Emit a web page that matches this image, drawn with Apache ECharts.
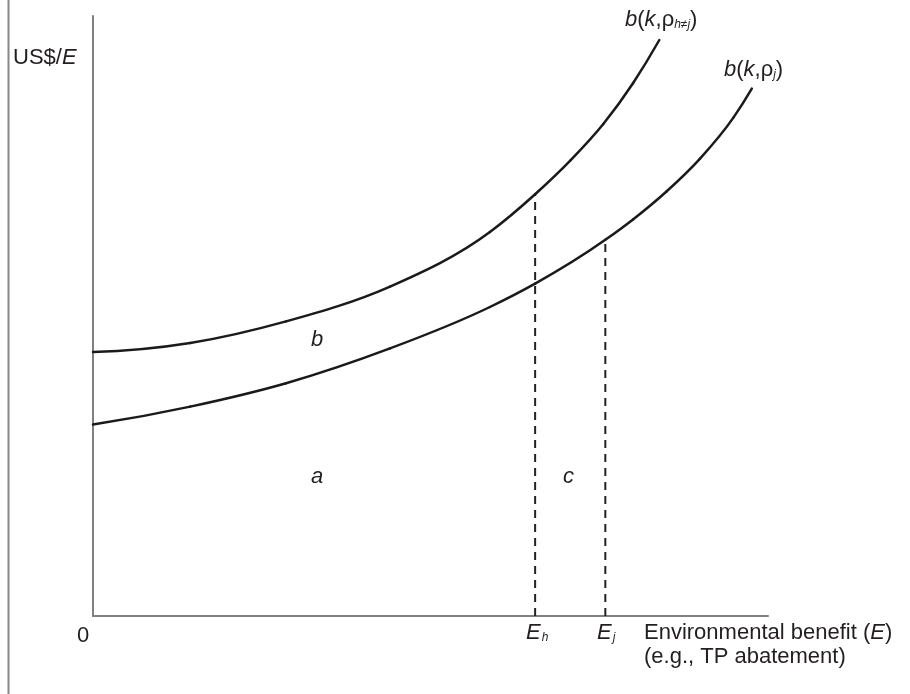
<!DOCTYPE html>
<html>
<head>
<meta charset="utf-8">
<script src="https://cdn.jsdelivr.net/npm/echarts@6/dist/echarts.min.js"></script>
<style>
html,body{margin:0;padding:0;background:#fff;}
#chart{width:910px;height:694px;}
</style>
</head>
<body>
<div id="chart"></div>
<script>
// Curve b(k, rho_{h!=j}) (upper) — [E, US$/E]
var upperX = [0, 14.4, 28.6, 44.0, 58.8, 65.5, 70.7, 75.6, 80.0, 83.9];
var upperY = [44.0, 45.5, 49.1, 54.9, 64.0, 70.3, 75.9, 82.0, 88.8, 96.0];
// Curve b(k, rho_j) (lower)
var lowerX = [0, 14.4, 28.6, 44.0, 58.8, 65.5, 75.9, 80.0, 85.0, 89.9, 94.9, 97.6];
var lowerY = [31.9, 34.9, 38.8, 44.6, 51.5, 55.4, 62.7, 66.1, 70.8, 76.2, 83.1, 87.9];
// Quantities E_h and E_j, and the curve height where each dashed line stops
var Eh = 65.5, EhTop = 70.3;
var Ej = 75.9, EjTop = 62.7;

function pairs(xs, ys){ return xs.map(function(x,i){ return [x, ys[i]]; }); }

var FONT = 'Liberation Sans';
var TXT = '#231f20';
var chart = echarts.init(document.getElementById('chart'), null, {renderer:'canvas'});

var dashStyle = {color:'#222', width:2, type:[8,6]};

// Smooth (cubic Hermite) curve through the data points, mapped through the axis scales
function curveSeries(xs, ys){
  var data = pairs(xs, ys), n = xs.length;
  var h = [], d = [], m = [];
  for (var k = 0; k < n - 1; k++){ h[k] = xs[k+1] - xs[k]; d[k] = (ys[k+1] - ys[k]) / h[k]; }
  for (k = 1; k < n - 1; k++){ m[k] = (h[k] * d[k-1] + h[k-1] * d[k]) / (h[k-1] + h[k]); }
  m[0] = d[0] - h[0] * (d[1] - d[0]) / (h[0] + h[1]);
  m[n-1] = d[n-2] + h[n-2] * (d[n-2] - d[n-3]) / (h[n-3] + h[n-2]);
  return {
    type:'custom', data:data, encode:{x:0, y:1}, z:3, silent:true,
    renderItem:function(params, api){
      var i = params.dataIndex;
      if (i >= n - 1) return;
      var s = h[i] / 3;
      var p1 = api.coord(data[i]), p2 = api.coord(data[i+1]);
      var c1 = api.coord([xs[i] + s, ys[i] + m[i] * s]);
      var c2 = api.coord([xs[i+1] - s, ys[i+1] - m[i+1] * s]);
      return {
        type:'bezierCurve',
        shape:{x1:p1[0], y1:p1[1], x2:p2[0], y2:p2[1], cpx1:c1[0], cpy1:c1[1], cpx2:c2[0], cpy2:c2[1]},
        style:{stroke:'#1a1a1a', lineWidth:2.5, fill:null, lineCap:'round'}
      };
    }
  };
}

function subLabel(text, sub, lh){
  return {text:'{i|' + text + '}{s|' + sub + '}', rich:{
    i:{fontFamily:FONT, fontSize:22, fontStyle:'italic', fill:TXT, lineHeight:lh, verticalAlign:'bottom'},
    s:{fontFamily:FONT, fontSize:12, fontStyle:'italic', fill:TXT, lineHeight:12, verticalAlign:'bottom', padding:[0,0,0,1]}}};
}
function curveLabel(sub){
  return {text:'{i|b}{n|(}{i|k}{n|,ρ}{s|' + sub + '}{n|)}', rich:{
    i:{fontFamily:FONT, fontSize:22, fontStyle:'italic', fill:TXT, lineHeight:28, verticalAlign:'bottom'},
    n:{fontFamily:FONT, fontSize:22, fill:TXT, lineHeight:28, verticalAlign:'bottom'},
    s:{fontFamily:FONT, fontSize:12, fontStyle:'italic', fill:TXT, lineHeight:12, verticalAlign:'bottom'}}};
}

chart.setOption({
  animation:false,
  backgroundColor:'#fff',
  grid:{left:93, right:142, top:16, bottom:78},
  xAxis:{type:'value', min:0, max:100, axisLine:{show:true, lineStyle:{color:'#808080', width:2}},
    axisTick:{show:false}, axisLabel:{show:false}, splitLine:{show:false}},
  yAxis:{type:'value', min:0, max:100, axisLine:{show:true, lineStyle:{color:'#808080', width:2}},
    axisTick:{show:false}, axisLabel:{show:false}, splitLine:{show:false}},
  series:[
    curveSeries(upperX, upperY),
    curveSeries(lowerX, lowerY),
    {type:'line', data:[[Eh,0],[Eh,EhTop]], showSymbol:false, lineStyle:dashStyle, z:2},
    {type:'line', data:[[Ej,0],[Ej,EjTop]], showSymbol:false, lineStyle:dashStyle, z:2}
  ],
  graphic:[
    {type:'line', shape:{x1:8.5, y1:0, x2:8.5, y2:694}, style:{stroke:'#888', lineWidth:2}},
    {type:'text', left:13, top:47, style:{text:'{n|US$/}{i|E}', rich:{
      n:{fontFamily:FONT, fontSize:22, fill:TXT}, i:{fontFamily:FONT, fontSize:22, fontStyle:'italic', fill:TXT}}}},
    {type:'text', left:77, top:625, style:{text:'0', fontFamily:FONT, fontSize:22, fill:TXT}},
    {type:'text', left:644, top:622, style:{text:'{n|Environmental benefit (}{i|E}{n|)}\n{n|(e.g., TP abatement)}', rich:{
      n:{fontFamily:FONT, fontSize:22, fill:TXT, lineHeight:24}, i:{fontFamily:FONT, fontSize:22, fontStyle:'italic', fill:TXT, lineHeight:24}}}},
    {type:'text', left:526, top:622, style:subLabel('E', 'h', 26)},
    {type:'text', left:597, top:622, style:subLabel('E', 'j', 26)},
    {type:'text', left:311, top:329, style:{text:'b', fontFamily:FONT, fontSize:22, fontStyle:'italic', fill:TXT}},
    {type:'text', left:311, top:466, style:{text:'a', fontFamily:FONT, fontSize:22, fontStyle:'italic', fill:TXT}},
    {type:'text', left:563, top:466, style:{text:'c', fontFamily:FONT, fontSize:22, fontStyle:'italic', fill:TXT}},
    {type:'text', left:625, top:9, style:curveLabel('h≠j')},
    {type:'text', left:724, top:59, style:curveLabel('j')}
  ]
});
</script>
</body>
</html>
